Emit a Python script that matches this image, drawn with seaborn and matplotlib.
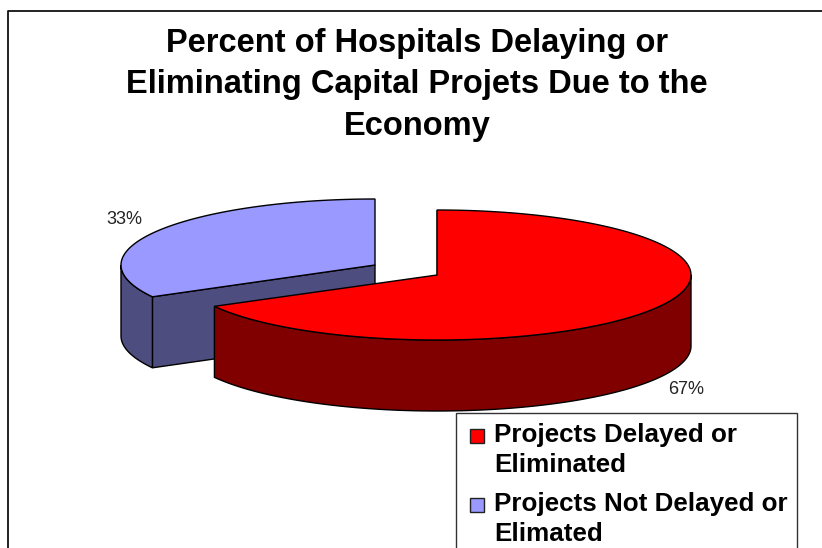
import numpy as np
import matplotlib
matplotlib.use("Agg")
import matplotlib.pyplot as plt
from matplotlib.patches import Polygon, Rectangle
import seaborn as sns

labels = ["Projects Delayed or\nEliminated", "Projects Not Delayed or\nElimated"]
values = [67, 33]
pct_labels = ["67%", "33%"]
top_colors = ["#ff0000", "#9999ff"]
side_colors = ["#800000", "#4d4d80"]
title = "Percent of Hospitals Delaying or\nEliminating Capital Projets Due to the\nEconomy"

sns.set_theme(style="white")
plt.rcParams["font.family"] = ["Liberation Sans", "DejaVu Sans"]

# axes in image pixels so the fake 3d pie lines up
fig = plt.figure(figsize=(8.22, 5.48), dpi=100)
ax = fig.add_axes([0, 0, 1, 1])
ax.set_xlim(0, 822)
ax.set_ylim(548, 0)
ax.axis("off")

# chart frame, only top and left show in the crop
ax.plot([7.5, 7.5, 822], [548, 11, 11], color="#111111", lw=1.3)

DEPTH = 71


def ellipse_pts(cx, cy, rx, ry, a0, a1, n=200):
    # angles clockwise from 12 o'clock
    t = np.radians(np.linspace(a0, a1, n))
    return np.column_stack([cx + rx * np.sin(t), cy - ry * np.cos(t)])


def draw_slice(cx, cy, rx, ry, a0, a1, top, side):
    rim = ellipse_pts(cx, cy, rx, ry, a0, a1)
    # outer wall, only the part facing the viewer
    lo, hi = max(a0, 90), min(a1, 270)
    if hi > lo:
        wall = ellipse_pts(cx, cy, rx, ry, lo, hi)
        ax.add_patch(Polygon(np.vstack([wall, wall[::-1] + [0, DEPTH]]),
                             fc=side, ec="black", lw=1, zorder=2))
    # cut face on the right of the slice
    ax.add_patch(Polygon(np.vstack([[cx, cy], rim[0], rim[0] + [0, DEPTH], [cx, cy + DEPTH]]),
                         fc=side, ec="black", lw=1, zorder=1))
    ax.add_patch(Polygon(np.vstack([[cx, cy], rim]), fc=top, ec="black", lw=1, zorder=3))


total = sum(values)
red_end = 360 * values[0] / total
draw_slice(375, 265, 254, 66, red_end, 360, top_colors[1], side_colors[1])
draw_slice(437, 275, 254, 65, 0, red_end, top_colors[0], side_colors[0])

ax.text(417, 85, title, ha="center", va="center", fontsize=23.5, fontweight="bold",
        color="black", linespacing=1.42)
ax.text(686, 390, pct_labels[0], ha="center", va="center", fontsize=13, color="#222222")
ax.text(124, 219, pct_labels[1], ha="center", va="center", fontsize=13, color="#222222")

# legend box
ax.add_patch(Rectangle((456, 413), 341, 150, fc="white", ec="#333333", lw=1, zorder=5))
for lab, col, y in zip(labels, top_colors, [436, 505]):
    ax.add_patch(Rectangle((470, y - 7), 14, 14, fc=col, ec="#222222", lw=1, zorder=6))
    ax.text(494, y + 14, lab, ha="left", va="center", fontsize=18.7, fontweight="bold",
            color="black", linespacing=1.3, zorder=6)

fig.savefig("out.png", dpi=100)
